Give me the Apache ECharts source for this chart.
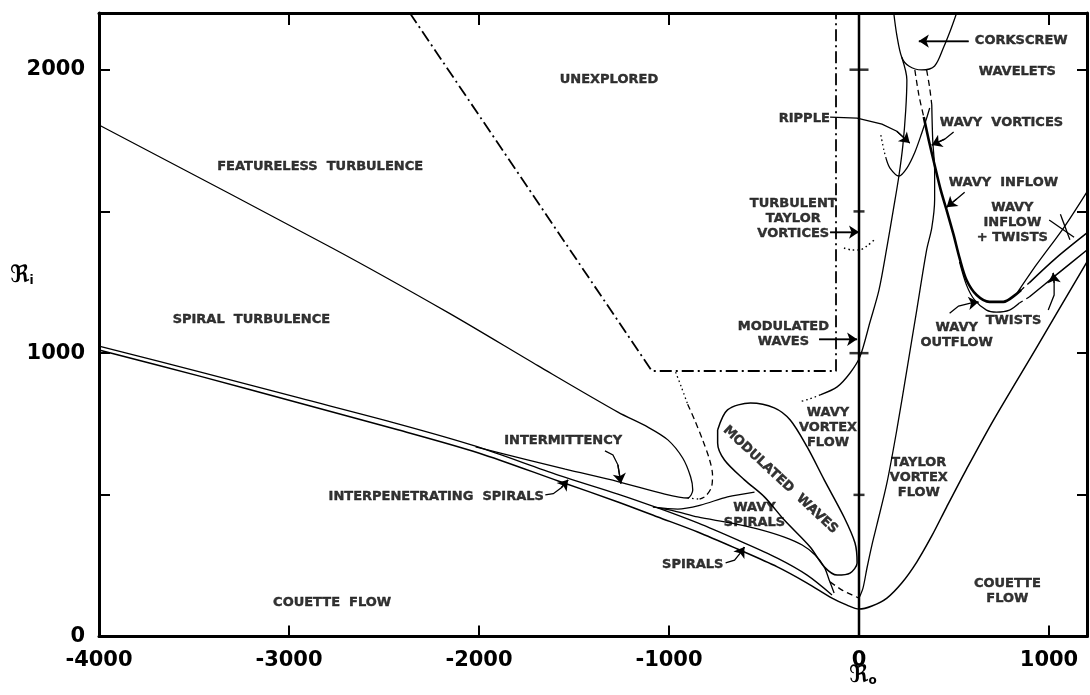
<!DOCTYPE html>
<html>
<head>
<meta charset="utf-8">
<script src="https://cdn.jsdelivr.net/npm/echarts@6/dist/echarts.min.js"></script>
<style>
  html, body { margin: 0; padding: 0; background: #fff; }
  #main { width: 1090px; height: 695px; }
</style>
</head>
<body>
<div id="main"></div>
<script>
// boundaries of the flow regimes, [Ro, Ri]
var featureless = [[-4000,1805],[-2773,1371],[-2160,1142],[-1688,955],[-1269,792],[-1111,739],[-1006,694],[-928,630],[-886,563],[-875,517],[-902,489],[-1022,503],[-1269,547],[-1546,591],[-2018,669]];
var spiralUpper = [[-4000,1025],[-3470,934],[-2946,842],[-2422,750],[-2018,672],[-1583,570],[-1269,503],[-1059,454],[-849,401],[-640,341],[-430,277],[-273,217],[-142,147]];
var couette = [[-4000,1011],[-3470,919],[-2946,824],[-2422,729],[-2002,648],[-1583,549],[-1269,475],[-1059,422],[-849,369],[-640,309],[-430,246],[-273,189],[-142,136],[-63,111],[0,97],[68,108],[147,136],[225,189],[304,263],[383,355],[461,457],[566,591],[708,764],[933,1018],[1200,1322]];
var wavyOnset = [[0,136],[21,171],[42,242],[68,323],[94,394],[147,542],[199,729],[252,941],[304,1152],[356,1364],[383,1442],[398,1540],[398,1646],[388,1752],[383,1876]];
var corkscrew = [[183,2200],[199,2122],[225,2044],[262,2013],[330,1999],[398,2013],[446,2080],[482,2140],[514,2200]];
var wvfUpper = [[225,2044],[252,1964],[246,1858],[231,1734],[210,1625],[183,1515],[147,1374],[105,1222],[58,1110],[5,987],[-47,930],[-115,881],[-204,853]];
var wvfUpperDotted = [[-204,853],[-262,838],[-315,828]];
var rippleSolid = [[142,1688],[163,1653],[210,1625],[252,1653],[294,1709],[330,1776],[356,1829],[372,1865]];
var rippleDotted = [[115,1769],[131,1716],[142,1688]];
var dashLeft = [[294,1999],[315,1911],[341,1833]];
var dashRight = [[356,1999],[372,1936],[383,1876]];
var wavyInflow = [[341,1833],[367,1752],[398,1664],[430,1576],[461,1505],[498,1417],[529,1336],[566,1258],[619,1205],[687,1181],[760,1181],[828,1208],[854,1223]];
var inflowGap = [[854,1223],[896,1248]];
var twistUpper = [[896,1248],[1038,1336],[1200,1424]];
var wavyOutflow = [[529,1322],[566,1240],[608,1188],[671,1152],[723,1145],[792,1152],[844,1177]];
var outflowGap = [[844,1177],[896,1198]];
var twistLower = [[896,1198],[1038,1276],[1200,1364]];
var inflowTwists = [[828,1208],[933,1311],[1080,1445],[1200,1569]];
var modLoop = [[-744,729],[-692,800],[-571,824],[-446,807],[-362,764],[-273,669],[-183,553],[-79,422],[-21,330],[-10,260],[-47,224],[-115,217],[-183,246],[-257,316],[-393,411],[-498,493],[-603,553],[-708,623],[-744,683],[-744,729]];
var wavySpiralUpper = [[-1085,457],[-954,450],[-834,464],[-692,493],[-550,510]];
var wavySpiralLower = [[-1059,454],[-970,443],[-849,422],[-676,401],[-535,380],[-393,351],[-299,323],[-231,288],[-183,246],[-157,200],[-131,154]];
var bottomDash = [[-152,193],[-89,164],[-37,147],[0,136]];
var noseDotted = [[-965,933],[-933,877],[-902,820]];
var noseDashed = [[-902,820],[-865,764],[-823,694],[-786,623],[-771,570],[-776,528],[-807,496],[-839,485]];
var noseLink = [[-902,489],[-839,485]];
var unexplored = [[-2364,2200],[-1090,937],[-121,937],[-121,2200]];
var ttvDotted = [[-79,1371],[-37,1364],[0,1364],[42,1378],[79,1399]];
var zeroLine = [[0,0],[0,2200]];
var zeroTicks = [500,1000,1500,2000];

// label arrows
var arrows = [
  [[577,2101],[315,2101]],
  [[-152,1833],[-10,1829],[121,1808],[199,1783],[267,1741]],
  [[498,1780],[451,1755],[383,1734]],
  [[556,1568],[514,1544],[461,1515]],
  [[-152,1427],[0,1427]],
  [[-210,1049],[-10,1049]],
  [[477,1141],[524,1166],[592,1177],[629,1180]],
  [[996,1152],[1027,1205],[1027,1248],[1022,1283]],
  [[-1337,655],[-1295,641],[-1269,606],[-1253,540]],
  [[-1651,500],[-1609,504],[-1567,525],[-1531,553]],
  [[-702,260],[-655,270],[-624,295],[-603,316]]
];
var pointer = [[1001,1470],[1132,1409]];
var crossMark = [[1060,1490],[1110,1400]];

var labels = [
  ['FEATURELESS  TURBULENCE', -2836, 1657],
  ['SPIRAL  TURBULENCE', -3198, 1117],
  ['UNEXPLORED', -1316, 1964],
  ['INTERMITTENCY', -1557, 690],
  ['INTERPENETRATING  SPIRALS', -2225, 493],
  ['WAVY\nSPIRALS', -550, 429],
  ['SPIRALS', -875, 253],
  ['COUETTE  FLOW', -2773, 119],
  ['MODULATED  WAVES', -414, 553, -43],
  ['WAVY\nVORTEX\nFLOW', -163, 736],
  ['TAYLOR\nVORTEX\nFLOW', 315, 560],
  ['COUETTE\nFLOW', 781, 161],
  ['TURBULENT\nTAYLOR\nVORTICES', -346, 1473],
  ['MODULATED\nWAVES', -398, 1067],
  ['RIPPLE', -288, 1826],
  ['CORKSCREW', 854, 2101],
  ['WAVELETS', 833, 1992],
  ['WAVY  VORTICES', 750, 1815],
  ['WAVY  INFLOW', 760, 1600],
  ['WAVY\nINFLOW\n+ TWISTS', 807, 1462],
  ['TWISTS', 813, 1113],
  ['WAVY\nOUTFLOW', 514, 1064]
];

var FONT = 'DejaVu Sans';

function curve(data, width, type) {
  return {
    type: 'line', data: data, smooth: 0.3, symbol: 'none', silent: true,
    lineStyle: { color: '#000', width: width, type: type || 'solid' }
  };
}

var series = [
  curve(featureless, 1.3),
  curve(spiralUpper, 1.3),
  curve(couette, 1.5),
  curve(wavyOnset, 1.3),
  curve(corkscrew, 1.3),
  curve(wvfUpper, 1.3),
  curve(wvfUpperDotted, 1.3, [1.5, 3]),
  curve(rippleSolid, 1.3),
  curve(rippleDotted, 1.3, [1.5, 3]),
  curve(dashLeft, 1.3, [6, 4]),
  curve(dashRight, 1.3, [6, 4]),
  curve(wavyInflow, 2.6),
  curve(inflowGap, 1.3, [4, 4]),
  curve(twistUpper, 1.5),
  curve(wavyOutflow, 1.3),
  curve(outflowGap, 1.3, [4, 4]),
  curve(twistLower, 1.5),
  curve(inflowTwists, 1.3),
  curve(modLoop, 1.5),
  curve(wavySpiralUpper, 1.3),
  curve(wavySpiralLower, 1.3),
  curve(bottomDash, 1.3, [6, 4]),
  curve(noseDotted, 1.3, [1.5, 3]),
  curve(noseDashed, 1.3, [6, 4]),
  curve(noseLink, 1.3, [1.5, 3]),
  curve(ttvDotted, 1.5, [1.5, 3]),
  { type: 'line', data: unexplored, symbol: 'none', silent: true,
    lineStyle: { color: '#000', width: 1.8, type: [12, 4, 2, 4] } },
  { type: 'line', data: zeroLine, symbol: 'none', silent: true,
    lineStyle: { color: '#000', width: 2.5 } },
  { type: 'scatter', silent: true, symbol: 'rect',
    data: zeroTicks.map(function (v) {
      return { value: [0, v], symbolSize: v % 1000 === 0 ? [19, 2.5] : [11, 2.5] };
    }),
    itemStyle: { color: '#000' } },
  // arrow bodies
  { type: 'lines', coordinateSystem: 'cartesian2d', polyline: true, silent: true,
    lineStyle: { color: '#000', width: 1.3, opacity: 1 },
    data: arrows.map(function (a) { return { coords: a }; }).concat([{ coords: pointer }, { coords: crossMark }]) },
  // arrow heads on the last segment
  { type: 'lines', coordinateSystem: 'cartesian2d', silent: true,
    symbol: ['none', 'arrow'], symbolSize: [0, 10],
    lineStyle: { color: '#000', width: 1.3, opacity: 1 },
    itemStyle: { color: '#000' },
    data: arrows.map(function (a) { return { coords: [a[a.length - 2], a[a.length - 1]] }; }) },
  { type: 'scatter', silent: true, symbolSize: 0, z: 10,
    data: labels.map(function (l) {
      return {
        value: [l[1], l[2]],
        label: {
          show: true, position: 'inside', formatter: l[0], rotate: l[3] || 0,
          color: '#000', fontFamily: FONT, fontWeight: 'bold', fontSize: 13,
          textBorderColor: '#000', textBorderWidth: 0.4,
          lineHeight: 15, align: 'center', verticalAlign: 'middle'
        }
      };
    }) }
];

function tickFmt(v) { return v % 1000 === 0 ? String(v) : ''; }

var axisLine = { onZero: false, lineStyle: { color: '#000', width: 3 } };
var tickStyle = { color: '#000', width: 2 };
var labelStyle = { color: '#000', fontFamily: FONT, fontWeight: 'bold', fontSize: 21, formatter: tickFmt };

var myChart = echarts.init(document.getElementById('main'));
myChart.setOption({
  animation: false,
  backgroundColor: '#fff',
  grid: { left: 99, top: 13, width: 993, height: 623.6 },
  xAxis: [
    { type: 'value', min: -4000, max: 1200, interval: 1000, position: 'bottom',
      axisLine: axisLine, axisTick: { inside: true, length: 11, lineStyle: tickStyle },
      axisLabel: Object.assign({ margin: 13 }, labelStyle), splitLine: { show: false } },
    { type: 'value', min: -4000, max: 1200, interval: 1000, position: 'top',
      axisLine: axisLine, axisTick: { inside: true, length: 12, lineStyle: tickStyle },
      axisLabel: { show: false }, splitLine: { show: false } }
  ],
  yAxis: [
    { type: 'value', min: 0, max: 2200, interval: 500, position: 'left',
      axisLine: axisLine, axisTick: { inside: true, length: 11, lineStyle: tickStyle },
      axisLabel: Object.assign({ margin: 14 }, labelStyle), splitLine: { show: false } },
    { type: 'value', min: 0, max: 2200, interval: 500, position: 'right',
      axisLine: axisLine, axisTick: { inside: true, length: 10, lineStyle: tickStyle },
      axisLabel: { show: false }, splitLine: { show: false } }
  ],
  graphic: [
    { type: 'text', left: 10, top: 264,
      style: { text: '{r|ℜ}{s|i}', fill: '#000',
        rich: { r: { fontFamily: FONT, fontWeight: 'bold', fontSize: 24, fill: '#000' },
                s: { fontFamily: FONT, fontWeight: 'bold', fontSize: 12, fill: '#000', padding: [10, 0, 0, 0] } } } },
    { type: 'text', left: 849, top: 664,
      style: { text: '{r|ℜ}{s|o}', fill: '#000',
        rich: { r: { fontFamily: FONT, fontWeight: 'bold', fontSize: 24, fill: '#000' },
                s: { fontFamily: FONT, fontWeight: 'bold', fontSize: 12, fill: '#000', padding: [10, 0, 0, 0] } } } }
  ],
  series: series
});
</script>
</body>
</html>
